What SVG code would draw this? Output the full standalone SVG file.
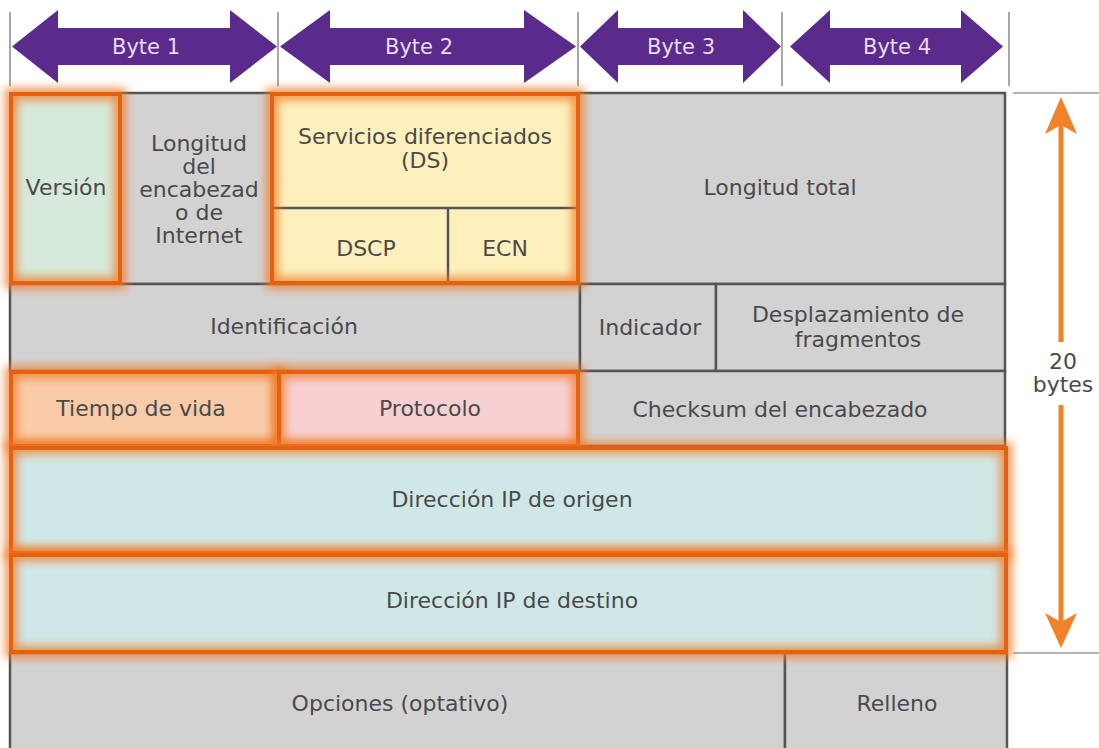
<svg xmlns="http://www.w3.org/2000/svg" width="1099" height="748" viewBox="0 0 1099 748">
<defs>
<filter id="blur" x="-20%" y="-40%" width="140%" height="180%"><feGaussianBlur stdDeviation="5"/></filter>
<style>
.cell{fill:#d3d2d3;stroke:#555;stroke-width:2.5}
.hl{stroke:#e5600f;stroke-width:4}
.glow{fill:none;stroke:#f07a25;stroke-width:12;filter:url(#blur);opacity:.8}
.t{font-family:"DejaVu Sans","Liberation Sans",sans-serif;font-size:22px;fill:#4a4a4a;text-anchor:middle}
.b{font-family:"DejaVu Sans","Liberation Sans",sans-serif;font-size:21px;fill:#e8dcf2;text-anchor:middle}
.arrow{fill:#5b2b8b}
.tick{stroke:#8a8a8a;stroke-width:1.5}
.dim{stroke:#f0832a;stroke-width:5}
.dimhead{fill:#f0832a}
.rule{stroke:#9a9a9a;stroke-width:1.5}
</style>
</defs>
<rect width="1099" height="748" fill="#ffffff"/>

<g id="byte-ruler">
<line class="tick" x1="10" y1="12" x2="10" y2="86"/>
<line class="tick" x1="278" y1="12" x2="278" y2="86"/>
<line class="tick" x1="578" y1="12" x2="578" y2="86"/>
<line class="tick" x1="782" y1="12" x2="782" y2="86"/>
<line class="tick" x1="1009" y1="12" x2="1009" y2="86"/>
<g id="byte1"><polygon class="arrow" points="12,46.5 58,10 58,28 230,28 230,10 277,46.5 230,83 230,65 58,65 58,83"/><text class="b" x="146" y="54">Byte 1</text></g>
<g id="byte2"><polygon class="arrow" points="280,46.5 330,10 330,28 524,28 524,10 576,46.5 524,83 524,65 330,65 330,83"/><text class="b" x="419" y="54">Byte 2</text></g>
<g id="byte3"><polygon class="arrow" points="580,46.5 618,10 618,28 743,28 743,10 781,46.5 743,83 743,65 618,65 618,83"/><text class="b" x="681" y="54">Byte 3</text></g>
<g id="byte4"><polygon class="arrow" points="790,46.5 830,10 830,28 961,28 961,10 1003,46.5 961,83 961,65 830,65 830,83"/><text class="b" x="897" y="54">Byte 4</text></g>
</g>

<g id="ihl"><rect class="cell" x="120" y="93" width="152" height="191"/>
<text class="t" x="199" y="151">Longitud</text><text class="t" x="199" y="174">del</text><text class="t" x="199" y="197">encabezad</text><text class="t" x="199" y="220">o de</text><text class="t" x="199" y="243">Internet</text></g>
<g id="total-length"><rect class="cell" x="578" y="93" width="427" height="191"/><text class="t" x="780" y="195">Longitud total</text></g>
<g id="identification"><rect class="cell" x="10" y="284" width="570" height="87"/><text class="t" x="284" y="334">Identificación</text></g>
<g id="flags"><rect class="cell" x="580" y="284" width="136" height="87"/><text class="t" x="650" y="335">Indicador</text></g>
<g id="fragment-offset"><rect class="cell" x="716" y="284" width="289" height="87"/><text class="t" x="858" y="322">Desplazamiento de</text><text class="t" x="858" y="347">fragmentos</text></g>
<g id="checksum"><rect class="cell" x="578" y="371" width="427" height="75"/><text class="t" x="780" y="417">Checksum del encabezado</text></g>
<g id="options"><rect class="cell" x="10" y="653" width="775" height="100"/><text class="t" x="400" y="711">Opciones (optativo)</text></g>
<g id="padding"><rect class="cell" x="785" y="653" width="222" height="100"/><text class="t" x="897" y="711">Relleno</text></g>

<g id="version"><rect x="11" y="94" width="109" height="189" fill="#d6e9da"/><rect class="glow" x="11" y="94" width="109" height="189"/><rect class="hl" fill="none" x="11" y="94" width="109" height="189"/><text class="t" x="66" y="195">Versión</text></g>
<g id="ds"><rect x="272" y="94" width="306" height="189" fill="#fdf0bd"/>
<line x1="272" y1="208" x2="578" y2="208" stroke="#555" stroke-width="2.5"/><line x1="448" y1="208" x2="448" y2="283" stroke="#555" stroke-width="2.5"/>
<rect class="glow" x="272" y="94" width="306" height="189"/><rect class="hl" fill="none" x="272" y="94" width="306" height="189"/>
<text class="t" x="425" y="144">Servicios diferenciados</text><text class="t" x="425" y="168">(DS)</text>
<text class="t" x="366" y="256">DSCP</text><text class="t" x="505" y="256">ECN</text></g>
<g id="ttl"><rect x="11" y="372" width="268" height="74" fill="#f9cba8"/><rect class="glow" x="11" y="372" width="268" height="74"/><rect class="hl" fill="none" x="11" y="372" width="268" height="74"/><text class="t" x="141" y="416">Tiempo de vida</text></g>
<g id="protocol"><rect x="279" y="372" width="299" height="74" fill="#f8d0d2"/><rect class="glow" x="279" y="372" width="299" height="74"/><rect class="hl" fill="none" x="279" y="372" width="299" height="74"/><text class="t" x="430" y="416">Protocolo</text></g>
<g id="source-ip"><rect x="11" y="448" width="995" height="105" fill="#cfe8e7"/><rect class="glow" x="11" y="448" width="995" height="105"/><rect class="hl" fill="none" x="11" y="448" width="995" height="105"/><text class="t" x="512" y="507">Dirección IP de origen</text></g>
<g id="dest-ip"><rect x="11" y="555" width="995" height="97" fill="#cfe8e7"/><rect class="glow" x="11" y="555" width="995" height="97"/><rect class="hl" fill="none" x="11" y="555" width="995" height="97"/><text class="t" x="512" y="608">Dirección IP de destino</text></g>

<g id="connectors">
<line class="rule" x1="1013" y1="93" x2="1099" y2="93"/>
<line class="rule" x1="1013" y1="653" x2="1099" y2="653"/>
<line class="dim" x1="1061" y1="118" x2="1061" y2="342"/>
<line class="dim" x1="1061" y1="405" x2="1061" y2="628"/>
<polygon class="dimhead" points="1061,97 1077,134 1061,125 1045,134"/>
<polygon class="dimhead" points="1061,648 1077,613 1061,622 1045,613"/>
<text class="t" x="1063" y="369">20</text>
<text class="t" x="1063" y="392">bytes</text>
</g>
</svg>
